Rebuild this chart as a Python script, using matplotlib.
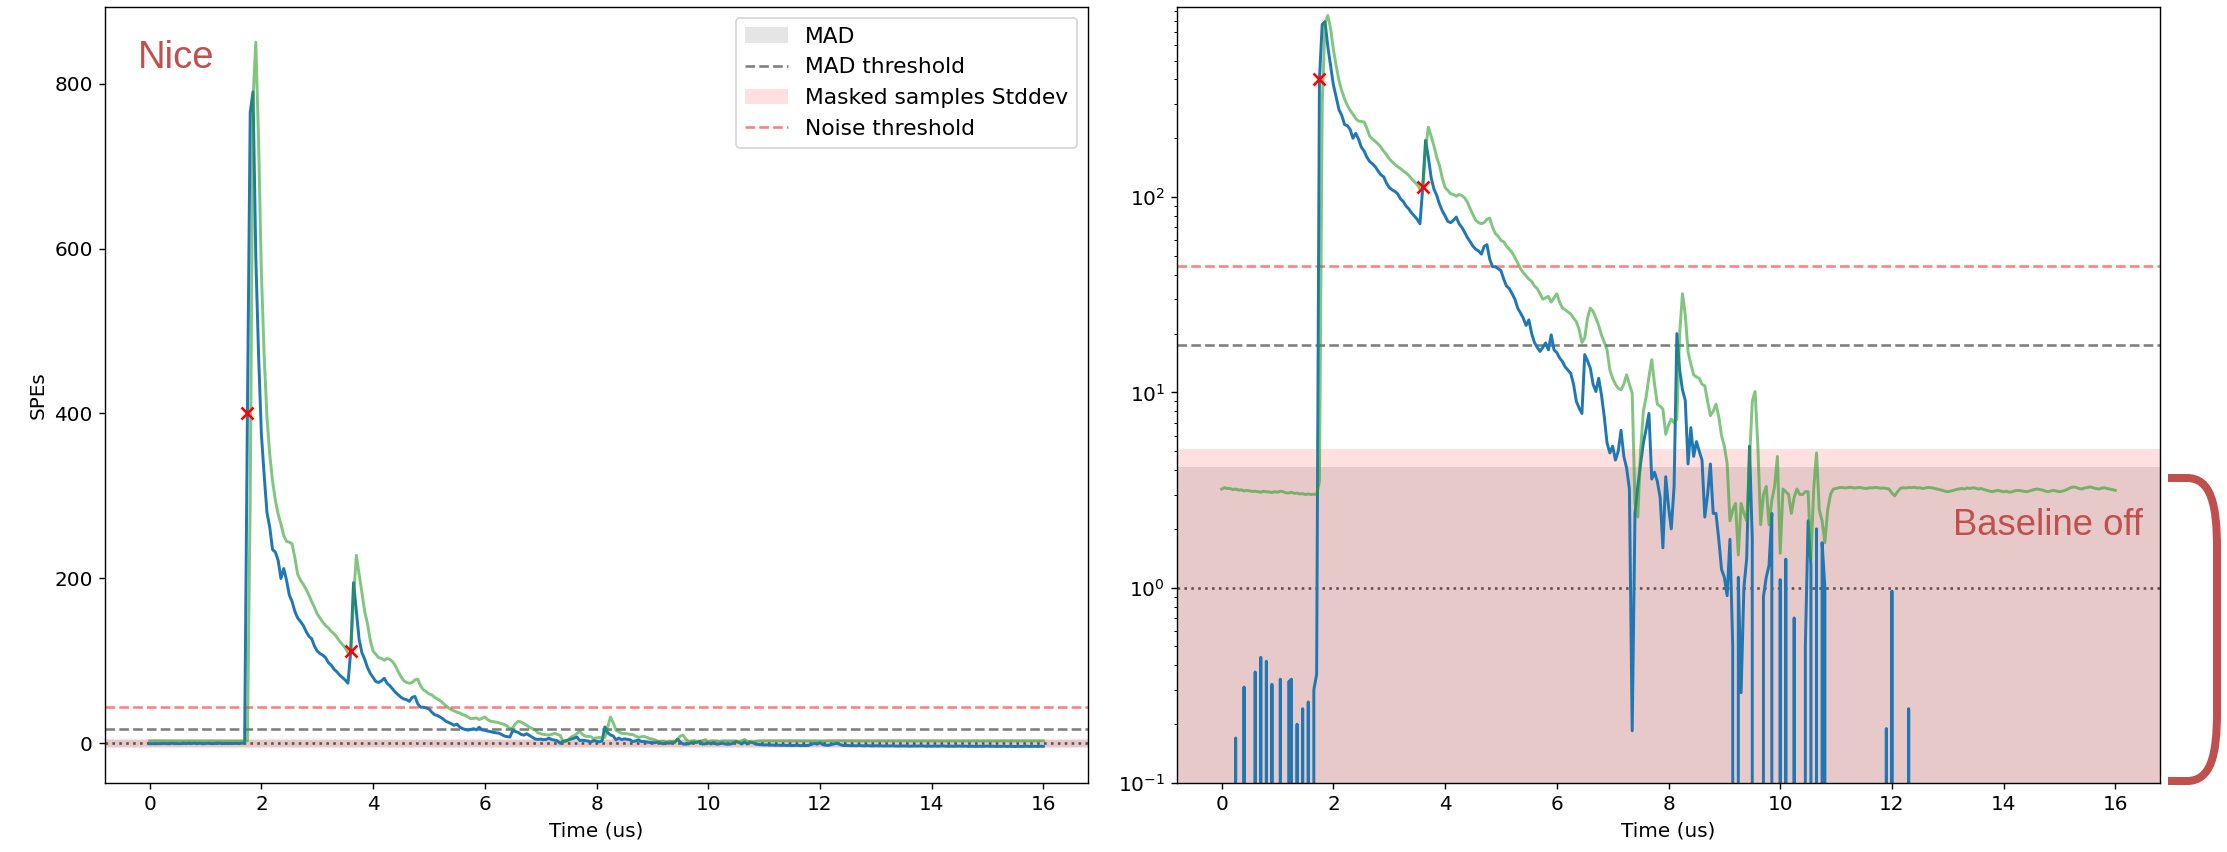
import numpy as np
import matplotlib
matplotlib.use("Agg")
import matplotlib.pyplot as plt
from matplotlib.path import Path
from matplotlib.patches import PathPatch

# ---------------- data ----------------
dt = 0.05
blue = [
    -0.3, -0.2, -0.4, -0.1, -0.3, 0.17, -0.2, -0.3, 0.31, -0.2,
    -0.1, -0.3, 0.37, -0.2, 0.44, -0.1, 0.42, -0.2, 0.32, -0.3,
    -0.1, 0.34, -0.2, -0.1, 0.33, 0.34, -0.2, 0.20, -0.1, 0.24,
    -0.1, 0.26, -0.1, 0.30, 0.36, 400, 765, 790, 590, 470,
    375, 325, 280, 262, 235, 232, 222, 200, 212, 198,
    180, 172, 160, 152, 148, 143, 136, 130, 127, 118,
    112, 109, 107, 104, 98, 95, 90, 87, 83, 80,
    77, 73, 112, 195, 160, 126, 110, 102, 92, 85,
    80, 75, 74, 76, 79, 73, 70, 66, 62, 59,
    56, 54, 53, 51, 56, 57, 48, 44, 44, 43,
    42, 38, 35, 34, 32, 30, 27, 25.5, 24, 22,
    23.5, 20, 18, 17, 16.2, 17, 17.9, 16.5, 19.7, 16.5,
    16, 15, 14.4, 13.5, 13, 12.5, 11, 9.0, 8.3, 7.8,
    15.6, 14.5, 13.3, 11, 10.1, 11.8, 9.7, 7.5, 5.5, 4.9,
    5.3, 4.5, 5.0, 6.4, 4.7, 4.1, 3.2, 0.185, 2.4, 3.3,
    4.3, 5.5, 6.5, 7.8, 3.6, 3.9, 3.5, 2.9, 1.6, 3.7,
    2.6, 2.0, 3.3, 20, 13, 10.3, 9.1, 4.3, 6.6, 4.7,
    5.6, 5.0, 4.5, 2.3, 3.0, 4.3, 2.4, 2.4, 1.77, 1.24,
    1.13, 0.91, 1.77, 0.5, -0.5, 1.13, 0.29, 1.0, 1.41, 5.3,
    1.77, -0.6, -0.8, -0.4, 0.9, 1.13, 1.3, 2.4, -0.7, -0.3,
    1.1, -0.5, 1.4, -0.8, -0.4, 0.7, -0.5, -0.9, -0.6, 0.5,
    2.2, 1.3, -0.6, 2.0, -0.7, 1.7, 1.0, -0.8, -1.2, -1.5,
    -1.8, -1.6, -2.0, -1.9, -2.2, -2.0, -2.3, -2.1, -2.4, -2.2,
    -2.5, -2.3, -2.2, -2.6, -2.4, -2.5, -2.3, -1.0, 0.19, -0.9,
    0.96, -1.2, -2.0, -2.3, -1.5, -0.6, 0.24, -1.0, -2.2, -2.5,
    -2.4, -2.7, -2.6, -2.8, -2.5, -2.7, -2.9, -2.6, -2.8, -3.0,
    -2.7, -2.9, -2.8, -3.1, -2.9, -3.0, -2.8, -3.1, -3.2, -2.9,
    -3.1, -3.0, -3.3, -3.1, -3.0, -3.2, -2.9, -3.1, -3.3, -3.2,
    -3.4, -3.1, -3.3, -3.2, -3.0, -3.3, -3.5, -3.2, -3.4, -3.3,
    -3.1, -3.4, -3.2, -3.5, -3.3, -3.4, -3.6, -3.3, -3.5, -3.4,
    -3.2, -3.5, -3.3, -3.6, -3.4, -3.5, -3.3, -3.6, -3.4, -3.5,
    -3.7, -3.4, -3.6, -3.5, -3.3, -3.6, -3.4, -3.5, -3.6, -3.4,
    -3.5,
]
green = [
    3.20, 3.25, 3.22, 3.22, 3.18, 3.20, 3.16, 3.17, 3.13, 3.15,
    3.13, 3.11, 3.12, 3.10, 3.08, 3.12, 3.10, 3.09, 3.07, 3.10,
    3.08, 3.12, 3.10, 3.06, 3.05, 3.08, 3.04, 3.05, 3.02, 3.03,
    3.00, 3.02, 3.00, 3.01, 3.00, 3.5, 300, 780, 850, 730,
    570, 470, 395, 350, 318, 295, 278, 266, 252, 245,
    244, 242, 225, 205, 198, 193, 187, 180, 172, 165,
    157, 152, 147, 143, 140, 136, 133, 129, 124, 120,
    116, 110, 112, 175, 228, 205, 183, 160, 145, 125,
    112, 108, 104, 103, 101, 103, 102, 99, 94, 87,
    81, 76, 74, 73, 74, 77, 78, 70, 65, 63,
    60, 59, 56, 54, 52, 49, 46, 43, 41, 39.5,
    38, 37, 35, 34, 32, 30, 30.5, 31, 29, 30.5,
    32, 29, 27, 26.5, 25.8, 25.2, 24, 23, 21, 18,
    19, 24, 27, 26, 24, 22, 19.7, 18, 16.5, 13,
    11.8, 11, 10.5, 10.3, 11, 12.3, 11, 9.9, 2.7, 2.3,
    5, 8, 9.5, 12, 14.7, 11, 8.7, 8.5, 8.2, 6.1,
    6.8, 7.3, 7.0, 7.3, 20, 32, 25, 16.1, 14, 12.3,
    12, 11.8, 11, 10.8, 9.0, 7.6, 8.0, 8.7, 7.5, 6.0,
    5.3, 4.3, 2.2, 2.5, 2.7, 1.47, 2.7, 2.4, 2.2, 4.5,
    9.0, 10.1, 5.3, 2.1, 3.0, 3.3, 2.1, 2.8, 3.3, 4.7,
    1.5, 3.2, 3.1, 3.0, 2.4, 2.9, 3.2, 3.0, 3.0, 3.1,
    3.1, 1.4, 3.2, 4.9, 2.5, 2.2, 1.7, 2.5, 3.0, 3.2,
    3.22, 3.25, 3.26, 3.24, 3.25, 3.27, 3.25, 3.24, 3.26, 3.25,
    3.23, 3.22, 3.25, 3.24, 3.26, 3.25, 3.23, 3.24, 3.22, 3.20,
    3.05, 2.95, 3.10, 3.22, 3.25, 3.24, 3.26, 3.25, 3.27, 3.24,
    3.25, 3.22, 3.24, 3.26, 3.25, 3.23, 3.20, 3.18, 3.15, 3.12,
    3.10, 3.12, 3.15, 3.18, 3.20, 3.22, 3.20, 3.24, 3.22, 3.25,
    3.23, 3.20, 3.22, 3.18, 3.15, 3.12, 3.10, 3.13, 3.15, 3.12,
    3.10, 3.12, 3.08, 3.10, 3.13, 3.15, 3.14, 3.12, 3.10, 3.12,
    3.15, 3.18, 3.20, 3.18, 3.16, 3.12, 3.10, 3.13, 3.15, 3.12,
    3.10, 3.12, 3.15, 3.20, 3.25, 3.28, 3.26, 3.22, 3.20, 3.24,
    3.26, 3.28, 3.25, 3.22, 3.20, 3.23, 3.25, 3.22, 3.20, 3.18,
    3.15,
]
t = np.arange(len(blue)) * dt

peak_t = [1.75, 3.60]
peak_v = [400, 112]

mad = 4.16
mad_threshold = 17.4
masked_std = 5.15
noise_threshold = 44.4
unit_line = 1.0

ANN = "#C0504D"

plt.rcParams["font.size"] = 11.5

# ---------------- figure ----------------
W, H = 2227, 852
fig = plt.figure(figsize=(W / 125, H / 125), dpi=125)
axL = fig.add_axes([105 / W, 69 / H, 983 / W, 776 / H])
axR = fig.add_axes([1177 / W, 69 / H, 983 / W, 776 / H])

for ax in (axL, axR):
    ax.axhspan(-mad, mad, color="gray", alpha=0.2, lw=0, label="MAD")
    ax.axhline(mad_threshold, color="k", ls="--", alpha=0.5, label="MAD threshold")
    ax.axhspan(-masked_std, masked_std, color="red", alpha=0.12, lw=0,
               label="Masked samples Stddev")
    ax.axhline(noise_threshold, color="red", ls="--", alpha=0.5, label="Noise threshold")
    ax.axhline(unit_line, color="k", ls=":", alpha=0.6)
    ax.plot(t, blue, color="#1f77b4", lw=1.7)
    ax.plot(t, green, color="C2", alpha=0.6, lw=1.7)
    ax.plot(peak_t, peak_v, "x", color="red", ms=7, mew=1.5)
    ax.set_xlabel("Time (us)")
    ax.set_xticks(np.arange(0, 17, 2))

axL.set_ylabel("SPEs")
axL.legend(loc="upper right", fontsize=12.5)
axL.text(0.033, 0.921, "Nice", transform=axL.transAxes, color=ANN,
         fontsize=22, family="Liberation Sans", va="baseline", ha="left")

axR.set_yscale("log")
axR.set_ylim(0.1, 940)
axR.text(0.983, 0.3196, "Baseline off", transform=axR.transAxes, color=ANN,
         fontsize=21, family="Liberation Sans", va="baseline", ha="right")

# bracket next to right panel (figure pixel coords -> fraction)
def fp(x, y):
    return (x / W, 1 - y / H)

verts = [fp(2168, 478), fp(2187, 478), fp(2211, 478), fp(2217, 505), fp(2217, 548),
         fp(2217, 712), fp(2217, 755), fp(2211, 781), fp(2187, 781), fp(2168, 781)]
codes = [Path.MOVETO, Path.LINETO, Path.CURVE4, Path.CURVE4, Path.CURVE4,
         Path.LINETO, Path.CURVE4, Path.CURVE4, Path.CURVE4, Path.LINETO]
fig.add_artist(PathPatch(Path(verts, codes), transform=fig.transFigure,
                         fill=False, edgecolor=ANN, lw=4.6, capstyle="butt"))

fig.savefig("out.png", dpi=125)
